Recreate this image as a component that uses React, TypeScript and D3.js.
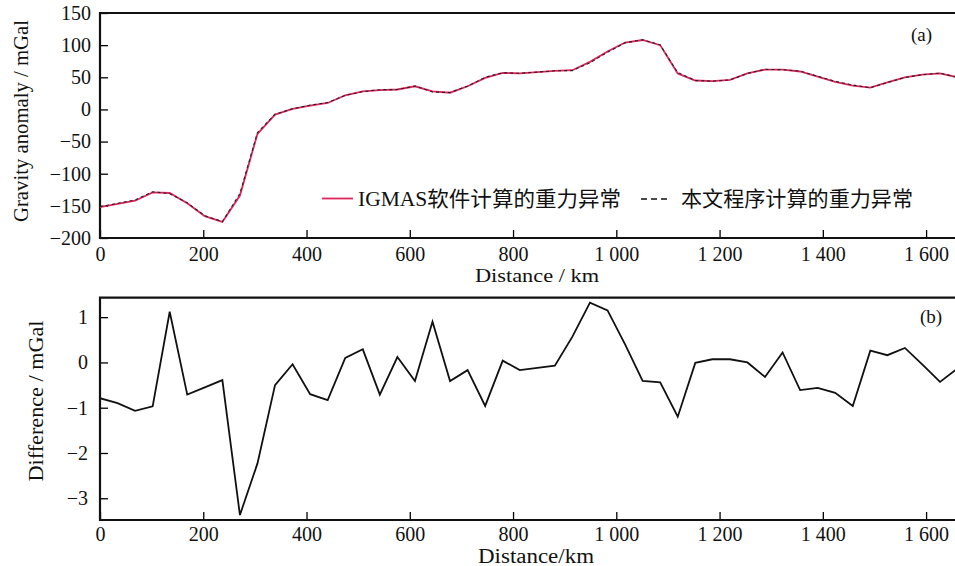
import React, { useEffect, useRef } from 'react';
import * as d3 from 'd3';

// profile distance, km
const distance = [0, 34, 68, 102, 135, 169, 203, 237, 271, 305, 339, 373, 407, 441, 475, 509, 542, 576, 610, 644,
  678, 712, 746, 780, 813, 847, 881, 915, 949, 983, 1017, 1051, 1085, 1119, 1153, 1186, 1220, 1254, 1288, 1322,
  1356, 1390, 1424, 1458, 1492, 1525, 1559, 1593, 1627, 1661];

// gravity anomaly computed by IGMAS, mGal
const igmas = [-152, -147, -142, -129, -130, -146, -166, -175, -134, -38, -8, 1, 6, 10, 22, 28, 30, 31, 36, 28,
  26, 36, 49, 57, 56, 58, 60, 61, 74, 90, 104, 108, 100, 56, 45, 44, 46, 56, 62, 62,
  59, 51, 43, 37, 34, 42, 50, 54, 56, 50];

// gravity anomaly computed by this program, mGal
const program = [-151.2, -146.1, -140.9, -128.0, -131.1, -145.3, -165.4, -174.6, -130.6, -35.8, -7.5, 1.0, 6.7, 10.8, 21.9, 27.7, 30.7, 30.9, 36.4, 27.1,
  26.4, 36.2, 50.0, 57.0, 56.2, 58.1, 60.1, 60.4, 72.7, 88.9, 103.6, 108.4, 100.4, 57.2, 45.0, 43.9, 45.9, 56.0, 62.3, 61.8,
  59.6, 51.6, 43.7, 38.0, 33.7, 41.8, 49.7, 54.1, 56.4, 50.1];

// difference between the two, mGal
const difference = [-0.79, -0.9, -1.07, -0.97, 1.12, -0.71, -0.55, -0.39, -3.37, -2.23, -0.5, -0.04, -0.7, -0.83, 0.1, 0.29, -0.71, 0.12, -0.41, 0.9,
  -0.41, -0.17, -0.96, 0.04, -0.17, -0.12, -0.07, 0.57, 1.32, 1.15, 0.4, -0.41, -0.44, -1.2, -0.01, 0.07, 0.07, 0.0, -0.32, 0.22,
  -0.61, -0.56, -0.67, -0.96, 0.26, 0.16, 0.32, -0.05, -0.43, -0.13];

const distTicks = [0, 200, 400, 600, 800, 1000, 1200, 1400, 1600];
const gravityTicks = [-200, -150, -100, -50, 0, 50, 100, 150];
const diffTicks = [-3, -2, -1, 0, 1];

const FONT = "'Liberation Serif', 'Times New Roman', Times, 'DejaVu Serif', serif, 'Noto Sans CJK SC'";
const W = 955;
const H = 566;
const left = 100;

const App = () => {
  const ref = useRef<SVGSVGElement>(null);

  useEffect(() => {
    const svg = d3.select(ref.current);
    svg.selectAll('*').remove();

    const x = d3.scaleLinear().domain([0, 1656]).range([left, W]);
    const fmtDist = (d: any) => (d >= 1000 ? String(d).replace(/^(\d)/, '$1 ') : String(d));

    function panel(opts: any) {
      const { top, bottom, y, yTicks, id, xPad, yPad } = opts;
      const g = svg.append('g');

      g.append('defs').append('clipPath').attr('id', id)
        .append('rect').attr('x', left).attr('y', top).attr('width', W - left + 5).attr('height', bottom - top);

      const xa = d3.axisBottom(x).tickValues(distTicks).tickSize(-8).tickPadding(xPad).tickFormat(fmtDist);
      const gx = g.append('g').attr('transform', `translate(0,${bottom})`).call(xa);
      gx.attr('font-family', FONT).attr('font-size', 20);
      gx.select('.domain').remove();
      gx.selectAll('line').attr('stroke-width', 1.3);
      gx.selectAll('text').attr('fill', '#111');

      const ya = d3.axisLeft(y).tickValues(yTicks).tickSize(-8).tickPadding(yPad).tickFormat(d3.format('d'));
      const gy = g.append('g').attr('transform', `translate(${left},0)`).call(ya);
      gy.attr('font-family', FONT).attr('font-size', 20);
      gy.select('.domain').remove();
      gy.selectAll('line').attr('stroke-width', 1.3);
      gy.selectAll('text').attr('fill', '#111');

      g.append('path')
        .attr('d', `M${W + 5},${top}H${left}V${bottom}H${W + 5}`)
        .attr('fill', 'none').attr('stroke', '#111').attr('stroke-width', 2.2);

      return g.append('g').attr('clip-path', `url(#${id})`);
    }

    const label = (tx: number, ty: number, txt: string, size: number, anchor = 'start', len = 0) => {
      const t = svg.append('text').attr('x', tx).attr('y', ty).attr('font-family', FONT).attr('font-size', size)
        .attr('text-anchor', anchor).attr('fill', '#111').text(txt);
      if (len) t.attr('textLength', len).attr('lengthAdjust', 'spacingAndGlyphs');
      return t;
    };
    const vlabel = (tx: number, ty: number, txt: string, len: number) =>
      svg.append('text').attr('transform', `translate(${tx},${ty}) rotate(-90)`).attr('text-anchor', 'middle')
        .attr('font-family', FONT).attr('font-size', 20).attr('fill', '#111')
        .attr('textLength', len).attr('lengthAdjust', 'spacingAndGlyphs').text(txt);

    // (a) gravity anomaly
    const yA = d3.scaleLinear().domain([-200, 150]).range([238, 13]);
    const plotA = panel({ top: 13, bottom: 238, y: yA, yTicks: gravityTicks, id: 'clipA', xPad: 9, yPad: 9 });
    const lineA = (vals: number[]) => d3.line<number>().x((d, i) => x(distance[i])).y(d => yA(d))(vals);
    plotA.append('path').attr('d', lineA(igmas)).attr('fill', 'none')
      .attr('stroke', '#e0245c').attr('stroke-width', 1.8);
    plotA.append('path').attr('d', lineA(program)).attr('fill', 'none')
      .attr('stroke', '#222').attr('stroke-width', 1.1).attr('stroke-dasharray', '3,3');

    // legend
    svg.append('line').attr('x1', 322).attr('x2', 353).attr('y1', 198.5).attr('y2', 198.5)
      .attr('stroke', '#e0245c').attr('stroke-width', 1.8);
    label(358, 206, 'IGMAS软件计算的重力异常', 21, 'start', 263);
    svg.append('line').attr('x1', 641).attr('x2', 670).attr('y1', 199).attr('y2', 199)
      .attr('stroke', '#111').attr('stroke-width', 1.6).attr('stroke-dasharray', '6,4');
    label(681, 206, '本文程序计算的重力异常', 21, 'start', 232);

    label(911, 41, '(a)', 19);
    label(537, 282, 'Distance / km', 18, 'middle', 124);
    vlabel(28, 121, 'Gravity anomaly / mGal', 202);

    // (b) difference
    const yB = d3.scaleLinear().domain([-3.48, 1.43]).range([520, 297.7]);
    const plotB = panel({ top: 297.7, bottom: 520, y: yB, yTicks: diffTicks, id: 'clipB', xPad: 7, yPad: 12 });
    const lineB = d3.line<number>().x((d, i) => x(distance[i])).y(d => yB(d));
    plotB.append('path').attr('d', lineB(difference)).attr('fill', 'none')
      .attr('stroke', '#111').attr('stroke-width', 1.8).attr('stroke-linejoin', 'miter');

    label(920, 323, '(b)', 19);
    label(536, 563, 'Distance/km', 20, 'middle', 116);
    vlabel(43, 401, 'Difference / mGal', 161);
  }, []);

  return (
    <svg ref={ref} width={W} height={H}
      style={{ position: 'absolute', left: 0, top: 0, background: '#fff' }} />
  );
};

export default App;
